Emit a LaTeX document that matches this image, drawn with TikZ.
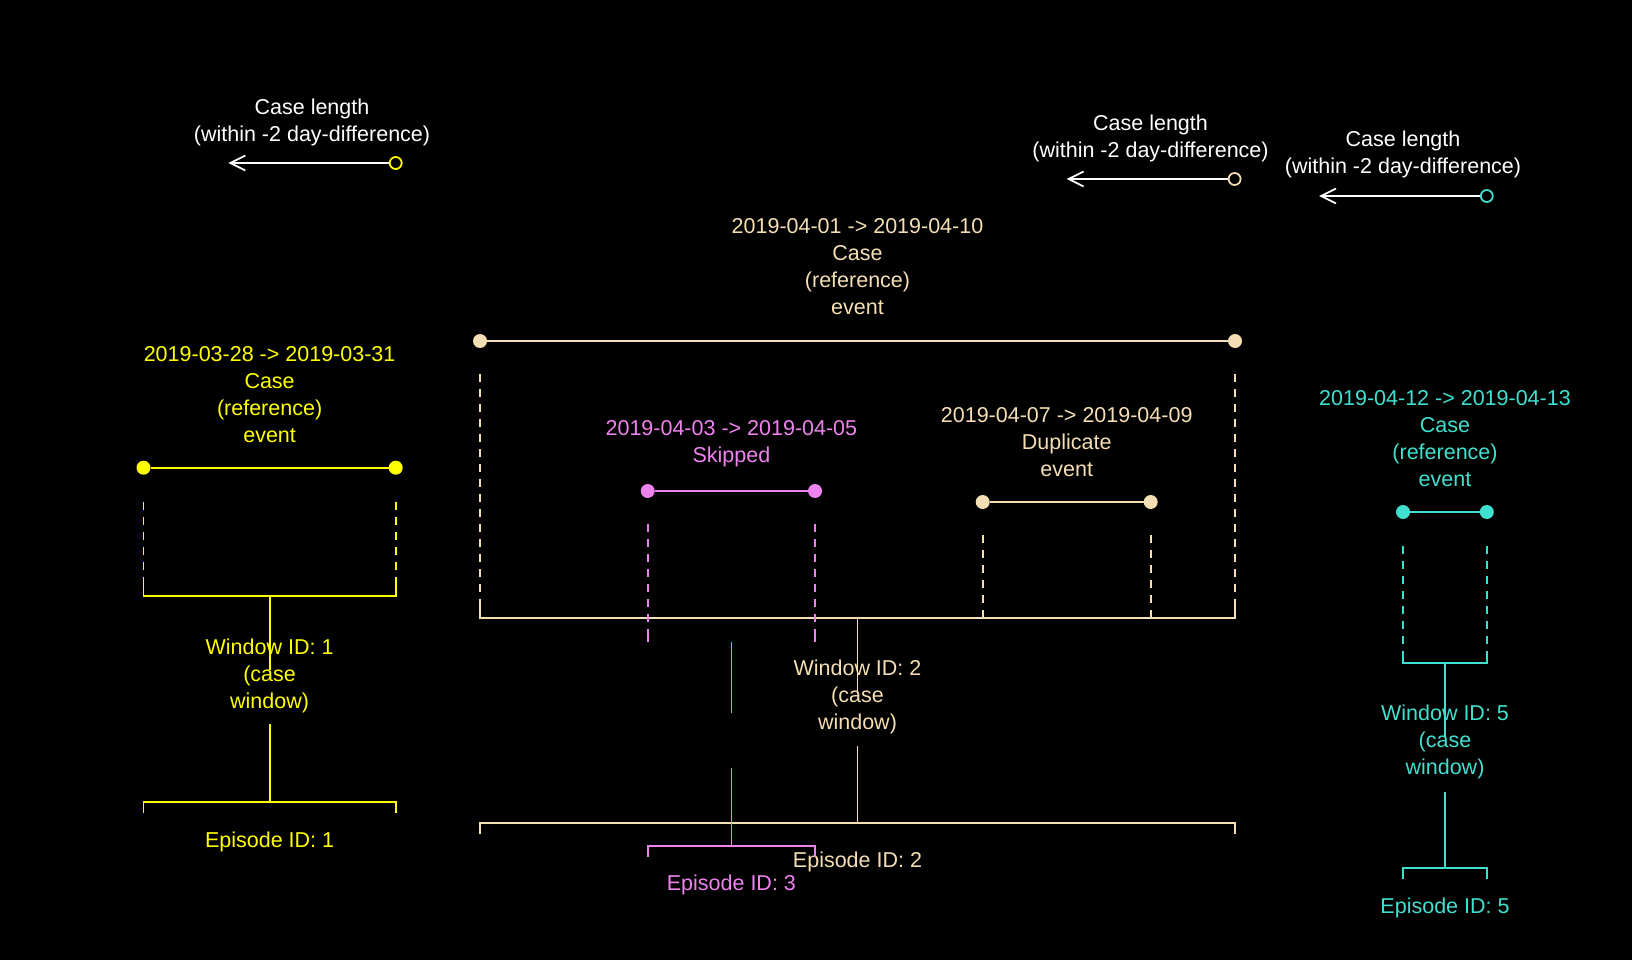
\documentclass[tikz,border=0pt]{standalone}
\usepackage{fontspec}
\setmainfont{Liberation Sans}
\usetikzlibrary{arrows.meta}
\definecolor{cyel}{HTML}{FFFF00}
\definecolor{cwht}{HTML}{F5DEB3}
\definecolor{cvio}{HTML}{EE82EE}
\definecolor{ctur}{HTML}{40E0D0}
\begin{document}
\begin{tikzpicture}[x=1pt,y=-1pt,
 lbl/.style={align=center, font=\fontsize{21.5}{27}\selectfont, inner sep=0pt, yshift=-1.5pt},
 ln/.style={line width=1.8pt},
 dsh/.style={line width=1.8pt, dash pattern=on 8pt off 7pt},
 dot/.style={circle, fill, inner sep=0pt, minimum size=14pt},
 ring/.style={circle, draw, line width=1.8pt, inner sep=0pt, minimum size=12pt},
 arr/.style={line width=1.8pt, white, -{Straight Barb[length=15pt,width=15pt]}}
]
\fill[black] (0,0) rectangle (1632,960);
\useasboundingbox (0,0) rectangle (1632,960);

% ---------- Case length arrows ----------
\node[lbl, white] (cl1) at (312,121.3) {Case length\\(within -2 day-difference)};
\node[ring, cyel] (r1) at (395.7,163) {};
\coordinate (t1) at (228.3,163);
\draw[arr] (r1) -- (t1);

\node[lbl, white] (cl2) at (1150.5,137) {Case length\\(within -2 day-difference)};
\node[ring, cwht] (r2) at (1234.6,179) {};
\coordinate (t2) at (1066.5,179);
\draw[arr] (r2) -- (t2);

\node[lbl, white] (cl3) at (1403,153) {Case length\\(within -2 day-difference)};
\node[ring, ctur] (r3) at (1486.8,196) {};
\coordinate (t3) at (1319,196);
\draw[arr] (r3) -- (t3);

% ---------- Yellow: case 2019-03-28 ----------
\begin{scope}[cyel]
\node[lbl, text=cyel] (yt) at (269.6,393.4) {2019-03-28 -> 2019-03-31\\Case\\(reference)\\event};
\node[dot] (ya) at (143.5,467.7) {};
\node[dot] (yb) at (395.7,467.7) {};
\draw[ln] (ya) -- (yb);
\coordinate (yda) at (143.5,501.7); \coordinate (ydae) at (143.5,584.7);
\coordinate (ydb) at (395.7,501.7); \coordinate (ydbe) at (395.7,584.7);
\draw[dsh] (yda) -- (ydae);
\draw[dsh] (ydb) -- (ydbe);
\coordinate (ywl) at (143.5,595.7); \coordinate (ywr) at (395.7,595.7);
\coordinate (ywc) at (269.6,595.7);
\draw[ln] (ydae) -- (ywl) -- (ywr) -- (ydbe);
\node[lbl, text=cyel] (yw) at (269.6,674.8) {Window ID: 1\\(case\\window)};
\coordinate (yv1) at (269.6,670);
\draw[ln] (ywc) -- (yv1);
\coordinate (yv2) at (269.6,724.3);
\coordinate (yel) at (143.5,801.7); \coordinate (yer) at (395.7,801.7);
\coordinate (yec) at (269.6,801.7);
\draw[ln] (yv2) -- (yec);
\draw[ln] ([yshift=-11pt]yel) -- (yel) -- (yer) -- ([yshift=-11pt]yer);
\node[lbl, text=cyel] (ye) at (269.6,840) {Episode ID: 1};
\end{scope}

% ---------- Wheat: case 2019-04-01 ----------
\begin{scope}[cwht]
\node[lbl, text=cwht] (wt) at (857.5,265.4) {2019-04-01 -> 2019-04-10\\Case\\(reference)\\event};
\node[dot] (wa) at (480,341) {};
\node[dot] (wb) at (1235,341) {};
\draw[ln] (wa) -- (wb);
\coordinate (wda) at (480,374); \coordinate (wdae) at (480,607);
\coordinate (wdb) at (1235,374); \coordinate (wdbe) at (1235,607);
\draw[dsh] (wda) -- (wdae);
\draw[dsh] (wdb) -- (wdbe);
\coordinate (wwl) at (480,617.7); \coordinate (wwr) at (1235,617.7);
\coordinate (wwc) at (857.5,617.7);
\draw[ln] (wdae) -- (wwl) -- (wwr) -- (wdbe);
\node[lbl, text=cwht] (ww) at (857.5,695.7) {Window ID: 2\\(case\\window)};
\coordinate (wv1) at (857.5,692);
\draw[ln] (wwc) -- (wv1);
\coordinate (wv2) at (857.5,746);
\coordinate (wel) at (480,823); \coordinate (wer) at (1235,823);
\coordinate (wec) at (857.5,823);
\draw[ln] (wv2) -- (wec);
\draw[ln] ([yshift=-11pt]wel) -- (wel) -- (wer) -- ([yshift=-11pt]wer);
\node[lbl, text=cwht] (we) at (857.5,860.7) {Episode ID: 2};

% duplicate
\node[lbl, text=cwht] (dt) at (1066.7,440.3) {2019-04-07 -> 2019-04-09\\Duplicate\\event};
\node[dot] (da) at (982.7,502) {};
\node[dot] (db) at (1150.7,502) {};
\draw[ln] (da) -- (db);
\coordinate (dda) at (982.7,535); \coordinate (ddae) at (982.7,617.7);
\coordinate (ddb) at (1150.7,535); \coordinate (ddbe) at (1150.7,617.7);
\draw[dsh] (dda) -- (ddae);
\draw[dsh] (ddb) -- (ddbe);
\end{scope}

% ---------- Violet: skipped ----------
\begin{scope}[cvio]
\node[lbl, text=cvio] (st) at (731.4,442.3) {2019-04-03 -> 2019-04-05\\Skipped};
\node[dot] (sa) at (647.7,491) {};
\node[dot] (sb) at (815,491) {};
\draw[ln] (sa) -- (sb);
\coordinate (sda) at (647.7,524); \coordinate (sdae) at (647.7,631);
\coordinate (sdb) at (815,524); \coordinate (sdbe) at (815,631);
\coordinate (swl) at (647.7,641.7); \coordinate (swr) at (815,641.7);
\draw[dsh] (sda) -- (sdae);
\draw[dsh] (sdb) -- (sdbe);
\draw[ln] (sdae) -- (swl);
\draw[ln] (sdbe) -- (swr);
\coordinate (swc) at (731.4,641.7);
\coordinate (sv1) at (731.4,713);
\draw[ln] (swc) -- (sv1);
\coordinate (sv2) at (731.4,768);
\coordinate (sel) at (647.7,846); \coordinate (ser) at (815,846);
\coordinate (sec) at (731.4,846);
\draw[ln] (sv2) -- (sec);
\draw[ln] ([yshift=-11pt]sel) -- (sel) -- (ser) -- ([yshift=-11pt]ser);
\node[lbl, text=cvio] (se) at (731.4,883.6) {Episode ID: 3};
\end{scope}

% ---------- Turquoise: case 2019-04-12 ----------
\begin{scope}[ctur]
\node[lbl, text=ctur] (ct) at (1445,437.1) {2019-04-12 -> 2019-04-13\\Case\\(reference)\\event};
\node[dot] (ca) at (1403,512) {};
\node[dot] (cb) at (1486.8,512) {};
\draw[ln] (ca) -- (cb);
\coordinate (cda) at (1403,546); \coordinate (cdae) at (1403,652);
\coordinate (cdb) at (1486.8,546); \coordinate (cdbe) at (1486.8,652);
\draw[dsh] (cda) -- (cdae);
\draw[dsh] (cdb) -- (cdbe);
\coordinate (cwl) at (1403,662.7); \coordinate (cwr) at (1486.8,662.7);
\coordinate (cwc) at (1445,662.7);
\draw[ln] (cdae) -- (cwl) -- (cwr) -- (cdbe);
\node[lbl, text=ctur] (cw) at (1445,740.4) {Window ID: 5\\(case\\window)};
\coordinate (cv1) at (1445,736.7);
\draw[ln] (cwc) -- (cv1);
\coordinate (cv2) at (1445,791.7);
\coordinate (cel) at (1403,868.3); \coordinate (cer) at (1486.8,868.3);
\coordinate (cec) at (1445,868.3);
\draw[ln] (cv2) -- (cec);
\draw[ln] ([yshift=-11pt]cel) -- (cel) -- (cer) -- ([yshift=-11pt]cer);
\node[lbl, text=ctur] (ce) at (1445,906.7) {Episode ID: 5};
\end{scope}
\end{tikzpicture}
\end{document}
